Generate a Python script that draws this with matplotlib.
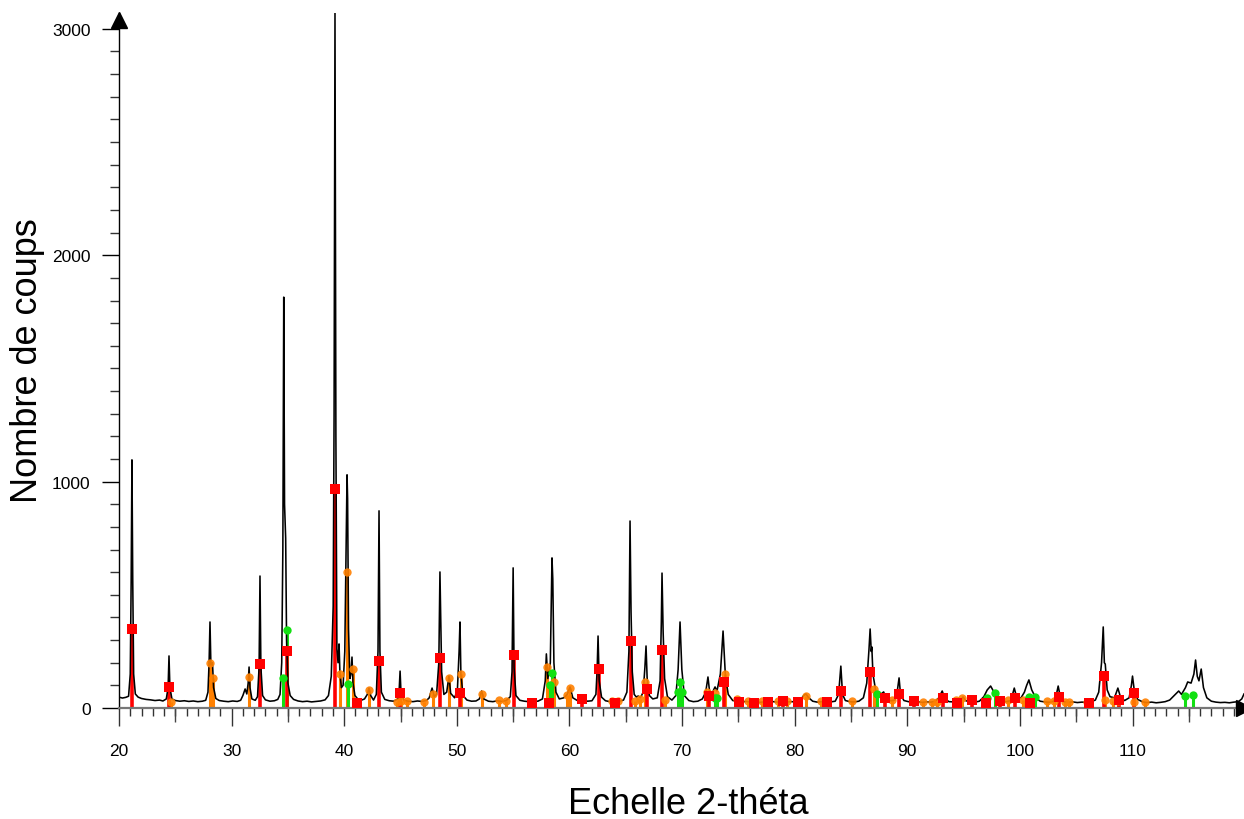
import numpy as np
import matplotlib
matplotlib.use("Agg")
import matplotlib.pyplot as plt

plt.rcParams['font.family'] = ['Liberation Sans', 'DejaVu Sans']

trace_20_41 = [
    (20.0, 48), (20.3, 44), (20.6, 47), (20.85, 52), (21.0, 150), (21.08, 560), (21.15, 1096), (21.22, 560),
    (21.3, 150), (21.45, 62), (21.7, 48), (22.0, 42), (22.4, 38), (22.8, 36), (23.2, 33), (23.6, 35),
    (23.9, 31), (24.2, 40), (24.36, 90), (24.44, 230), (24.52, 90), (24.7, 40), (25.0, 33), (25.4, 30),
    (25.8, 32), (26.2, 29), (26.6, 31), (27.0, 28), (27.4, 30), (27.7, 34), (27.9, 70), (28.0, 200),
    (28.08, 380), (28.16, 190), (28.3, 200), (28.4, 90), (28.6, 42), (28.9, 33), (29.3, 30), (29.7, 28),
    (30.1, 31), (30.5, 29), (30.8, 34), (31.0, 55), (31.2, 84), (31.35, 62), (31.47, 110), (31.55, 181),
    (31.63, 90), (31.8, 40), (32.1, 34), (32.3, 50), (32.44, 180), (32.52, 583), (32.6, 180), (32.75, 55),
    (33.0, 36), (33.4, 30), (33.8, 32), (34.1, 38), (34.3, 60), (34.45, 200), (34.55, 700), (34.63, 1815),
    (34.7, 900), (34.8, 750), (34.88, 300), (35.0, 110), (35.2, 55), (35.5, 38), (35.9, 31), (36.3, 28),
    (36.7, 30), (37.1, 27), (37.5, 29), (37.9, 31), (38.3, 36), (38.6, 55), (38.85, 140), (39.02, 450),
    (39.1, 1300), (39.18, 3070), (39.26, 1200), (39.35, 260), (39.45, 200), (39.54, 283), (39.62, 150),
    (39.75, 90), (39.9, 100), (40.05, 250), (40.17, 700), (40.25, 1030), (40.3, 925), (40.38, 350),
    (40.5, 130), (40.6, 150), (40.69, 225), (40.78, 110), (40.95, 55),
]
trace_41_75 = [
    (41.2, 40), (41.5, 34), (41.8, 40), (42.05, 60), (42.2, 88), (42.35, 55), (42.6, 35), (42.85, 60),
    (43.0, 250), (43.09, 871), (43.17, 250), (43.3, 70), (43.6, 38), (44.0, 32), (44.4, 30), (44.75, 40),
    (44.88, 80), (44.96, 163), (45.04, 70), (45.3, 34), (45.7, 30), (46.1, 28), (46.5, 31), (46.9, 29),
    (47.3, 33), (47.55, 45), (47.8, 88), (48.0, 50), (48.2, 60), (48.4, 200), (48.5, 601), (48.56, 420),
    (48.65, 160), (48.85, 60), (49.1, 70), (49.3, 141), (49.45, 65), (49.8, 45), (50.05, 80), (50.2, 250),
    (50.28, 380), (50.36, 150), (50.55, 55), (50.9, 35), (51.3, 30), (51.7, 31), (52.0, 40), (52.2, 75),
    (52.4, 40), (52.8, 30), (53.2, 28), (53.6, 32), (54.0, 29), (54.4, 33), (54.75, 50), (54.9, 160),
    (55.0, 619), (55.08, 180), (55.25, 55), (55.6, 34), (56.0, 30), (56.4, 28), (56.8, 31), (57.2, 30),
    (57.6, 40), (57.85, 120), (57.95, 239), (58.08, 130), (58.3, 200), (58.45, 663), (58.52, 570),
    (58.62, 200), (58.8, 70), (59.1, 40), (59.5, 45), (59.8, 60), (60.05, 93), (60.3, 45), (60.7, 33),
    (61.0, 40), (61.1, 55), (61.25, 35), (61.6, 30), (62.0, 32), (62.35, 60), (62.46, 170), (62.54, 318),
    (62.64, 120), (62.85, 48), (63.2, 32), (63.6, 28), (64.0, 30), (64.4, 29), (64.8, 35), (65.1, 70),
    (65.28, 250), (65.38, 826), (65.47, 424), (65.58, 160), (65.75, 60), (65.95, 48), (66.1, 53), (66.3, 45),
    (66.55, 70), (66.7, 180), (66.8, 274), (66.9, 130), (67.1, 55), (67.4, 40), (67.8, 45), (68.05, 120),
    (68.16, 380), (68.22, 596), (68.32, 335), (68.45, 130), (68.7, 50), (69.1, 35), (69.45, 55), (69.65, 170),
    (69.82, 380), (69.98, 170), (70.2, 55), (70.6, 33), (71.0, 28), (71.4, 30), (71.8, 40), (72.1, 70),
    (72.3, 137), (72.45, 70), (72.65, 50), (72.8, 80), (72.93, 93), (73.1, 75), (73.4, 150), (73.64, 340),
    (73.85, 140), (74.1, 60), (74.5, 33),
]
trace_75_120 = [
    (74.9, 30), (75.3, 27), (75.7, 29), (76.1, 26), (76.5, 28), (76.9, 25), (77.3, 27), (77.7, 25),
    (78.1, 28), (78.5, 26), (78.9, 29), (79.3, 26), (79.7, 28), (80.1, 27), (80.5, 35), (80.8, 55),
    (81.0, 62), (81.25, 45), (81.6, 30), (82.0, 26), (82.4, 28), (82.8, 25), (83.2, 27), (83.6, 30),
    (83.9, 60), (84.1, 185), (84.25, 60), (84.5, 33), (84.9, 28), (85.3, 27), (85.7, 30), (86.1, 45),
    (86.4, 110), (86.6, 260), (86.7, 349), (86.8, 250), (86.85, 270), (86.95, 150), (87.2, 75), (87.5, 55),
    (87.9, 71), (88.1, 45), (88.5, 32), (88.9, 35), (89.1, 70), (89.27, 133), (89.4, 60), (89.7, 33),
    (90.1, 28), (90.5, 26), (90.9, 28), (91.3, 25), (91.7, 27), (92.1, 26), (92.5, 30), (92.8, 45),
    (93.1, 75), (93.35, 40), (93.7, 28), (94.1, 27), (94.5, 30), (94.8, 38), (94.95, 49), (95.2, 32),
    (95.6, 27), (96.0, 26), (96.4, 30), (96.8, 50), (97.1, 80), (97.4, 97), (97.7, 70), (98.0, 45),
    (98.4, 30), (98.8, 28), (99.2, 33), (99.5, 88), (99.75, 40), (100.1, 45), (100.4, 70), (100.6, 100),
    (100.8, 124), (101.05, 80), (101.4, 45), (101.8, 30), (102.2, 27), (102.6, 25), (103.0, 30), (103.2, 50),
    (103.4, 97), (103.6, 45), (103.9, 28), (104.3, 25), (104.7, 27), (105.1, 24), (105.5, 26), (105.9, 25),
    (106.3, 28), (106.7, 35), (107.0, 70), (107.25, 200), (107.4, 358), (107.5, 200), (107.58, 194),
    (107.75, 80), (108.0, 50), (108.4, 45), (108.7, 88), (108.95, 45), (109.3, 33), (109.7, 45), (109.9, 100),
    (110.0, 141), (110.15, 80), (110.45, 38), (110.9, 27), (111.3, 24), (111.7, 26), (112.1, 23), (112.5, 25),
    (112.9, 28), (113.3, 35), (113.7, 55), (114.1, 75), (114.35, 60), (114.7, 90), (114.9, 115), (115.2, 110),
    (115.45, 150), (115.6, 212), (115.75, 140), (115.9, 120), (116.1, 172), (116.3, 90), (116.6, 45),
    (117.0, 30), (117.4, 26), (117.8, 24), (118.2, 25), (118.6, 23), (119.0, 26), (119.4, 28), (119.7, 40),
    (119.9, 62),
]

# reference phases (stick positions and intensities)
red_x = [21.15, 24.44, 32.55, 34.9, 39.15, 41.14, 43.1, 44.96, 48.5, 50.3, 55.05, 56.65, 58.2, 61.1, 62.6,
         64.05, 65.47, 66.9, 68.2, 72.4, 73.7, 75.06, 76.4, 77.6, 78.97, 80.3, 82.9, 84.1, 86.7, 88.0, 89.3,
         90.6, 93.2, 94.4, 95.75, 97.0, 98.25, 99.6, 100.9, 103.5, 106.1, 107.5, 108.8, 110.1]
red_y = [349, 93, 195, 252, 968, 22, 208, 66, 221, 66, 234, 22, 22, 40, 172,
         22, 296, 84, 256, 53, 115, 27, 22, 27, 31, 27, 27, 75, 159, 44, 62,
         31, 44, 22, 35, 22, 31, 44, 22, 49, 22, 141, 35, 66]

orange_x = [24.6, 28.08, 28.35, 31.55, 39.6, 40.25, 40.74, 42.2, 44.7, 45.0, 45.6, 47.1, 47.9, 49.3, 50.37,
            52.2, 53.75, 54.4, 58.0, 58.6, 59.8, 60.05, 63.8, 64.3, 65.8, 66.25, 66.7, 68.5, 72.2, 72.9,
            73.8, 74.9, 75.85, 77.1, 78.5, 79.3, 81.0, 82.3, 85.1, 87.0, 88.6, 91.4, 92.2, 92.6, 94.3, 94.9,
            98.9, 100.3, 102.4, 103.0, 104.0, 104.4, 106.0, 107.6, 108.3, 108.7, 110.1, 111.1]
orange_y = [27, 199, 133, 137, 150, 601, 172, 80, 27, 31, 31, 27, 62, 133, 150,
            62, 35, 31, 181, 115, 57, 88, 31, 31, 31, 40, 115, 35, 71, 66,
            150, 40, 31, 31, 31, 31, 53, 31, 31, 84, 35, 27, 27, 27, 35, 44,
            35, 35, 31, 31, 27, 27, 27, 35, 31, 31, 27, 27]

green_x = [34.56, 34.9, 40.33, 58.3, 58.45, 69.6, 69.82, 70.0, 72.9, 73.1, 87.3, 97.1, 97.8, 100.8, 101.3,
           114.7, 115.4]
green_y = [133, 345, 106, 100, 155, 71, 115, 71, 44, 44, 62, 44, 66, 49, 49, 53, 57]

x_ticks = [20, 30, 40, 50, 60, 70, 80, 90, 100, 110]
y_ticks = [0, 1000, 2000, 3000]

trace = trace_20_41 + trace_41_75 + trace_75_120
tt = [p[0] for p in trace]
cnt = [p[1] for p in trace]

fig = plt.figure(figsize=(12.44, 8.2), dpi=100)
ax = fig.add_axes([119 / 1244, 111 / 820, 1 - 119 / 1244, 695 / 820])

c_red = '#ff0000'
c_orange = '#ff8000'
c_green = '#12e012'

ax.vlines(orange_x, 0, orange_y, colors=c_orange, linewidth=2.2, zorder=2)
ax.vlines(green_x, 0, green_y, colors=c_green, linewidth=2.2, zorder=2)
ax.vlines(red_x, 0, red_y, colors=c_red, linewidth=2.6, zorder=2)

ax.plot(tt, cnt, color='black', linewidth=1.15, zorder=3)

ax.plot(orange_x, orange_y, 'o', color=c_orange, markersize=6, markeredgewidth=0, alpha=0.9, zorder=4)
ax.plot(green_x, green_y, 'o', color=c_green, markersize=6, markeredgewidth=0, zorder=4)
ax.plot(red_x, red_y, 's', color=c_red, markersize=7, markeredgewidth=0, zorder=5)

ax.set_xlim(20, 119.9)
ax.set_ylim(0, 3070)

ax.spines['top'].set_visible(False)
ax.spines['right'].set_visible(False)
ax.spines['left'].set_color('black')
ax.spines['left'].set_linewidth(1.0)
ax.spines['bottom'].set_color('#777777')
ax.spines['bottom'].set_linewidth(1.6)

ax.set_xticks(x_ticks)
ax.set_xticks(np.arange(20, 120, 1), minor=True)
ax.set_yticks(y_ticks)
ax.set_yticks(np.arange(0, 3001, 100), minor=True)
ax.tick_params(axis='x', which='major', length=13, width=1, color='#333333', pad=12, labelsize=12.5)
ax.tick_params(axis='x', which='minor', length=5.5, width=1, color='#333333')
ax.tick_params(axis='y', which='major', length=12.5, width=1, color='black', pad=8, labelsize=12.5)
ax.tick_params(axis='y', which='minor', length=6.5, width=1, color='#333333')

# slightly longer ticks at the 5s
fives = [25, 35, 45, 55, 65, 75, 85, 95, 105, 115]
ax.vlines(fives, 0, -14 / 695, transform=ax.get_xaxis_transform(), colors='#444444',
          linewidth=1, clip_on=False)

# arrow heads on the axes
ax.plot([0], [1 - 7 / 695], marker='^', color='black', markersize=11, transform=ax.transAxes,
        clip_on=False, zorder=6)
ax.plot([1], [0], marker='>', color='black', markersize=11, transform=ax.transAxes, clip_on=False, zorder=6)

fig.text(688 / 1244, 6 / 820, 'Echelle 2-théta', fontsize=26, ha='center', va='baseline')
fig.text(28 / 1244, 1 - 361 / 820, 'Nombre de coups', fontsize=26, ha='center', va='center', rotation=90)

fig.savefig('out.png', dpi=100)
